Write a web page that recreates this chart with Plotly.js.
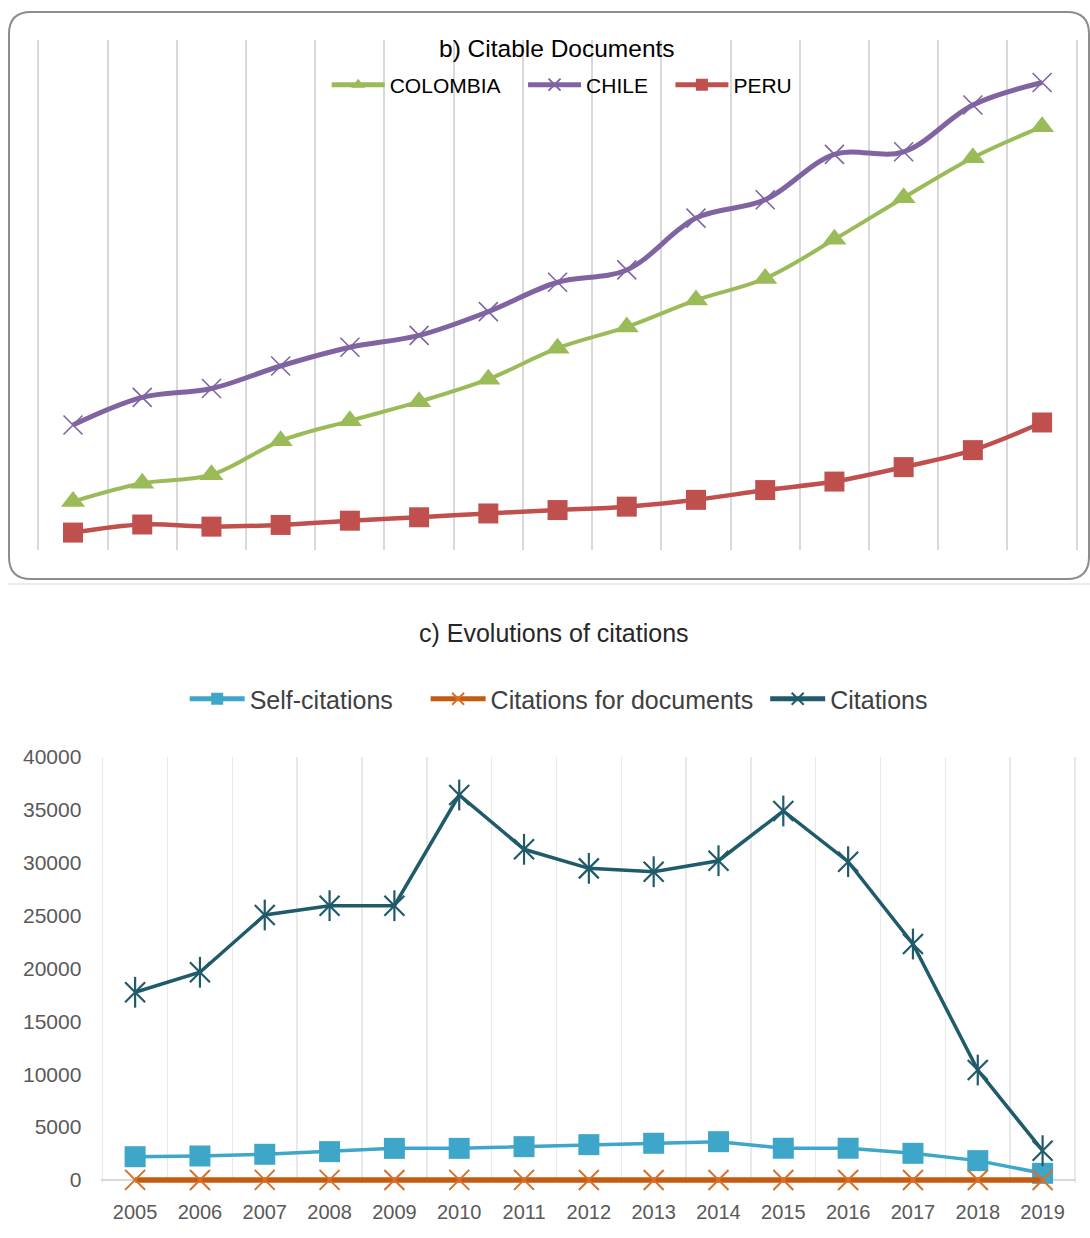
<!DOCTYPE html>
<html>
<head>
<meta charset="utf-8">
<script src="https://cdn.plot.ly/plotly-3.0.1.min.js"></script>
<style>
html,body{margin:0;padding:0;background:#ffffff;}
#chart{width:1090px;height:1238px;}
</style>
</head>
<body>
<div id="chart"></div>
<script>
// ---------- data ----------
const years = [2005, 2006, 2007, 2008, 2009, 2010, 2011, 2012, 2013, 2014, 2015, 2016, 2017, 2018, 2019];

// b) Citable Documents
const colombia = [1140, 1570, 1770, 2570, 3040, 3490, 4020, 4750, 5250, 5880, 6390, 7310, 8290, 9230, 9960];
const chile    = [2940, 3590, 3800, 4330, 4770, 5050, 5610, 6300, 6590, 7810, 8240, 9310, 9370, 10470, 11000];
const peru     = [410, 600, 550, 590, 690, 770, 860, 940, 1020, 1180, 1410, 1610, 1950, 2350, 3000];

// c) Evolutions of citations
const selfCitations          = [2200, 2270, 2430, 2680, 2990, 2990, 3150, 3340, 3470, 3620, 3000, 3000, 2520, 1830, 630];
const citationsForDocuments  = [9, 8, 10, 9, 8, 11, 9, 8, 8, 8, 8, 6, 4, 2, 0];
const citations              = [17740, 19630, 25040, 25920, 25920, 36380, 31250, 29450, 29130, 30170, 34870, 30080, 22300, 10390, 2770];

const topSeriesNames = ['COLOMBIA', 'CHILE', 'PERU'];
const bottomSeriesNames = ['Self-citations', 'Citations for documents', 'Citations'];
const topTitle = 'b) Citable Documents';
const bottomTitle = 'c) Evolutions of citations';

// ---------- layout helpers ----------
const W = 1090, H = 1238;
const px = x => x / W;
const py = y => 1 - y / H;
const SANS = '"Liberation Sans", Arial, sans-serif';
const NB = '\u00a0';
const pad = n => NB.repeat(n);

function roundRectPath(x0, y0, x1, y1, r) {
  const P = (x, y) => px(x).toFixed(5) + ',' + py(y).toFixed(5);
  return 'M' + P(x0 + r, y0) + ' L' + P(x1 - r, y0) + ' Q' + P(x1, y0) + ' ' + P(x1, y0 + r) +
         ' L' + P(x1, y1 - r) + ' Q' + P(x1, y1) + ' ' + P(x1 - r, y1) +
         ' L' + P(x0 + r, y1) + ' Q' + P(x0, y1) + ' ' + P(x0, y1 - r) +
         ' L' + P(x0, y0 + r) + ' Q' + P(x0, y0) + ' ' + P(x0 + r, y0) + ' Z';
}

// category-boundary gridlines sit at half years; range is widened slightly so the edge lines are kept
const EXT = 0.02;
const topUnit = (1076.7 - 38.4) / 15;
const botUnit = (1075 - 102.7) / 15;
const yPadBelow = 300;                      // lets the thick zero-level line show fully
const botYpx = (1180 - 756.7) / 40000;      // px per unit

// ---------- traces ----------
const traces = [
  {
    x: years, y: colombia, name: topSeriesNames[0] + pad(3), type: 'scatter', mode: 'lines+markers',
    xaxis: 'x', yaxis: 'y', legend: 'legend',
    line: {color: '#9bbb59', width: 4, shape: 'spline', smoothing: 1},
    marker: {symbol: 'triangle-up', size: 21, color: '#9bbb59'}
  },
  {
    x: years, y: chile, name: topSeriesNames[1] + pad(3), type: 'scatter', mode: 'lines+markers',
    xaxis: 'x', yaxis: 'y', legend: 'legend',
    line: {color: '#8064a2', width: 5, shape: 'spline', smoothing: 1},
    marker: {symbol: 'x-thin-open', size: 19, color: '#8064a2', line: {color: '#8064a2', width: 1.6}}
  },
  {
    x: years, y: peru, name: topSeriesNames[2], type: 'scatter', mode: 'lines+markers',
    xaxis: 'x', yaxis: 'y', legend: 'legend',
    line: {color: '#c0504d', width: 4.5, shape: 'spline', smoothing: 1},
    marker: {symbol: 'square', size: 20, color: '#c0504d'}
  },
  {
    x: years, y: selfCitations, name: bottomSeriesNames[0] + pad(4), type: 'scatter', mode: 'lines+markers',
    xaxis: 'x2', yaxis: 'y2', legend: 'legend2', cliponaxis: false,
    line: {color: '#3ea6c9', width: 3.5},
    marker: {symbol: 'square', size: 21, color: '#3ea6c9'}
  },
  {
    x: years, y: citationsForDocuments, name: bottomSeriesNames[1] + pad(1), type: 'scatter', mode: 'lines+markers',
    xaxis: 'x2', yaxis: 'y2', legend: 'legend2', cliponaxis: false,
    line: {color: '#c55a11', width: 5.5},
    marker: {symbol: 'x-thin-open', size: 20, color: '#d8702a', line: {color: '#d8702a', width: 2}}
  },
  {
    x: years, y: citations, name: bottomSeriesNames[2], type: 'scatter', mode: 'lines+markers',
    xaxis: 'x2', yaxis: 'y2', legend: 'legend2', cliponaxis: false,
    line: {color: '#1f5b6b', width: 3.5},
    marker: {symbol: 'x-thin-open', size: 20, color: '#1f5b6b', line: {color: '#1f5b6b', width: 2.2}}
  },
  {
    x: years, y: citations, name: bottomSeriesNames[2], type: 'scatter', mode: 'markers',
    xaxis: 'x2', yaxis: 'y2', showlegend: false, hoverinfo: 'skip', cliponaxis: false,
    marker: {symbol: 'line-ns-open', size: 22, color: '#1f5b6b', line: {color: '#1f5b6b', width: 2.2}}
  }
];

// ---------- layout ----------
const layout = {
  width: W, height: H,
  margin: {l: 0, r: 0, t: 0, b: 0, pad: 0},
  paper_bgcolor: '#ffffff', plot_bgcolor: 'rgba(0,0,0,0)',
  showlegend: true,
  xaxis: {
    domain: [px(38.4 - EXT * topUnit), px(1076.7 + EXT * topUnit)], anchor: 'y',
    range: [2004.5 - EXT, 2019.5 + EXT], tickmode: 'linear', tick0: 2004.5, dtick: 1,
    showticklabels: false, ticks: '', showgrid: true, gridcolor: '#d9d9d9', gridwidth: 2,
    zeroline: false, showline: false, fixedrange: true
  },
  yaxis: {
    domain: [py(550), py(40)], anchor: 'x',
    range: [0, 12000], showgrid: false, zeroline: false, showline: false,
    showticklabels: false, ticks: '', fixedrange: true
  },
  xaxis2: {
    domain: [px(102.7 - EXT * botUnit), px(1075 + EXT * botUnit)], anchor: 'y2',
    range: [2004.5 - EXT, 2019.5 + EXT], tickmode: 'linear', tick0: 2005, dtick: 1,
    showgrid: false, ticks: '', zeroline: false, showline: false,
    minor: {tickmode: 'linear', tick0: 2004.5, dtick: 1, showgrid: true, gridcolor: '#e9e9e9', gridwidth: 1.5, ticks: ''},
    tickfont: {family: SANS, size: 20, color: '#595959'},
    ticklabelstandoff: 15, fixedrange: true
  },
  yaxis2: {
    domain: [py(1180 + yPadBelow * botYpx), py(756.7)], anchor: 'x2',
    range: [-yPadBelow, 40000], tickmode: 'linear', tick0: 0, dtick: 5000, tickformat: 'd',
    showgrid: false, zeroline: true, zerolinecolor: '#d9d9d9', zerolinewidth: 1.5,
    showline: false, ticks: '',
    tickfont: {family: SANS, size: 21, color: '#595959'},
    ticklabelstandoff: 19, fixedrange: true
  },
  legend: {
    orientation: 'h', x: px(326.7), xanchor: 'left', y: py(85), yanchor: 'middle',
    font: {family: SANS, size: 21, color: '#000000'},
    itemwidth: 53, itemsizing: 'constant', bgcolor: 'rgba(0,0,0,0)', borderwidth: 0
  },
  legend2: {
    orientation: 'h', x: px(184.7), xanchor: 'left', y: py(699), yanchor: 'middle',
    font: {family: SANS, size: 25, color: '#404040'},
    itemwidth: 55, itemsizing: 'constant', bgcolor: 'rgba(0,0,0,0)', borderwidth: 0
  },
  annotations: [
    {text: topTitle, xref: 'paper', yref: 'paper', x: px(557), y: py(48.3), xanchor: 'center', yanchor: 'middle',
     showarrow: false, font: {family: SANS, size: 24.5, color: '#000000'}},
    {text: bottomTitle, xref: 'paper', yref: 'paper', x: px(554.4), y: py(632.7), xanchor: 'center', yanchor: 'middle',
     showarrow: false, font: {family: SANS, size: 25, color: '#262626'}}
  ],
  shapes: [
    {type: 'path', xref: 'paper', yref: 'paper', path: roundRectPath(9, 12, 1089, 579, 22),
     line: {color: '#8c8c8c', width: 2}, fillcolor: 'rgba(0,0,0,0)', layer: 'below'},
    {type: 'line', xref: 'paper', yref: 'paper', x0: px(8), x1: px(1090), y0: py(584), y1: py(584),
     line: {color: '#d6d6d6', width: 1}, layer: 'below'}
  ]
};

Plotly.newPlot('chart', traces, layout, {displayModeBar: false, staticPlot: true});
</script>
</body>
</html>
